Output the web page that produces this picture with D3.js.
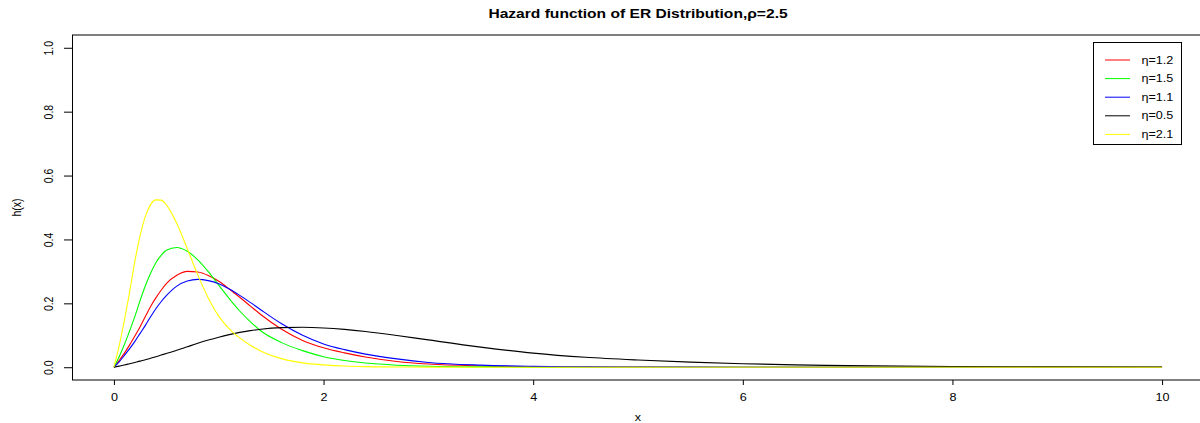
<!DOCTYPE html>
<html>
<head>
<meta charset="utf-8">
<script src="https://cdn.jsdelivr.net/npm/d3@7"></script>
<style>
  body { margin: 0; background: #fff; }
  text { font-family: "Liberation Sans", Arial, sans-serif; }
</style>
</head>
<body>
<div id="chart"></div>
<script>
// valores
const xs = [0, 0.05, 0.1, 0.15, 0.2, 0.25, 0.3, 0.35, 0.4, 0.45, 0.5, 0.6, 0.7, 0.8, 0.9, 1.0, 1.1, 1.2, 1.3, 1.4,
  1.6, 1.8, 2.0, 2.2, 2.4, 2.7, 3.0, 3.5, 4.0, 4.5, 5.0, 5.5, 6.0, 6.5, 7.0, 8.0, 9.0, 10.0];

const hEta12 = [0, 0.021, 0.044, 0.070, 0.098, 0.127, 0.159, 0.190, 0.217, 0.241, 0.262, 0.288, 0.300, 0.298, 0.287, 0.269, 0.245, 0.219, 0.192, 0.165,
  0.119, 0.084, 0.061, 0.045, 0.032, 0.018, 0.010, 0.004, 0.0016, 0.0007, 0.0002, 0, 0, 0, 0, 0, 0, 0];
const hEta15 = [0, 0.033, 0.071, 0.114, 0.159, 0.209, 0.255, 0.294, 0.327, 0.350, 0.366, 0.375, 0.363, 0.336, 0.299, 0.257, 0.215, 0.176, 0.143, 0.114,
  0.077, 0.052, 0.033, 0.021, 0.013, 0.0063, 0.003, 0.001, 0.0003, 0, 0, 0, 0, 0, 0, 0, 0, 0];
const hEta11 = [0, 0.017, 0.037, 0.058, 0.081, 0.106, 0.131, 0.158, 0.183, 0.205, 0.224, 0.254, 0.270, 0.275, 0.271, 0.261, 0.245, 0.225, 0.203, 0.180,
  0.136, 0.100, 0.073, 0.055, 0.041, 0.026, 0.015, 0.0065, 0.0028, 0.0011, 0.0006, 0.0002, 0, 0, 0, 0, 0, 0];
const hEta05 = [0, 0.0035, 0.007, 0.011, 0.015, 0.019, 0.0235, 0.028, 0.033, 0.038, 0.043, 0.053, 0.064, 0.075, 0.085, 0.094, 0.102, 0.109, 0.1145, 0.119,
  0.124, 0.125, 0.123, 0.1185, 0.112, 0.0995, 0.0855, 0.063, 0.044, 0.031, 0.0225, 0.016, 0.011, 0.0075, 0.005, 0.0022, 0.001, 0.0005];
const hEta21 = [0, 0.067, 0.147, 0.236, 0.332, 0.412, 0.472, 0.509, 0.524, 0.523, 0.508, 0.450, 0.371, 0.289, 0.217, 0.160, 0.120, 0.092, 0.069, 0.051,
  0.027, 0.0137, 0.0074, 0.0036, 0.0018, 0.0008, 0.0002, 0, 0, 0, 0, 0, 0, 0, 0, 0, 0, 0];

const etiquetas = ["η=1.2", "η=1.5", "η=1.1", "η=0.5", "η=2.1"];
const colores = ["#ff0000", "#00ff00", "#0000ff", "#000000", "#ffff00"];
const xTicks = [0, 2, 4, 6, 8, 10];
const yTicks = [0, 0.2, 0.4, 0.6, 0.8, 1.0];
const titulo = "Hazard function of ER Distribution,ρ=2.5";

const series = [hEta12, hEta15, hEta11, hEta05, hEta21];

const ancho = 1200, alto = 423;
const izq = 72, der = 1204, arriba = 35, abajo = 380;
// el original esta estirado a lo ancho
const estiro = "scale(1.2,1)";

const $svg = d3.select("#chart").append("svg")
  .attr("width", ancho)
  .attr("height", alto);

const x = d3.scaleLinear().domain([-0.4, 10.4]).range([izq, der]);
const y = d3.scaleLinear().domain([-0.04, 1.04]).range([abajo, arriba]);

// ejes
const ejeX = $svg.append("g")
  .attr("transform", `translate(0,${abajo})`)
  .call(d3.axisBottom(x).tickValues(xTicks).tickSize(5).tickFormat(d3.format("d")));
ejeX.select(".domain").remove();
ejeX.selectAll("text")
  .attr("y", null).attr("dy", null)
  .attr("transform", `translate(0,20.5) ${estiro}`)
  .attr("font-size", 10.5).attr("font-family", null);

const ejeY = $svg.append("g")
  .attr("transform", `translate(${izq},0)`)
  .call(d3.axisLeft(y).tickValues(yTicks).tickSize(8).tickFormat(d3.format(".1f")));
ejeY.select(".domain").remove();
ejeY.selectAll("text")
  .attr("x", null).attr("dy", null)
  .attr("text-anchor", "middle")
  .attr("transform", `translate(-19.5,0) ${estiro} rotate(-90)`)
  .attr("font-size", 10.5).attr("font-family", null);

// curvas
const linea = d3.line()
  .x((d, i) => x(xs[i]))
  .y(d => y(d))
  .curve(d3.curveMonotoneX);

series.forEach((s, i) => {
  $svg.append("path")
    .attr("d", linea(s))
    .attr("fill", "none")
    .attr("stroke", colores[i])
    .attr("stroke-width", 1.1);
});

// marco
$svg.append("rect")
  .attr("x", izq + 0.5).attr("y", arriba)
  .attr("width", der - izq).attr("height", abajo - arriba)
  .attr("fill", "none")
  .attr("stroke", "#000");

// titulos
$svg.append("text")
  .attr("transform", `translate(${(izq + der) / 2},18) ${estiro}`)
  .attr("text-anchor", "middle")
  .attr("font-weight", "bold")
  .attr("font-size", 13)
  .text(titulo);

$svg.append("text")
  .attr("transform", `translate(${(izq + der) / 2},420.5) ${estiro}`)
  .attr("text-anchor", "middle")
  .attr("font-size", 10.5)
  .text("x");

$svg.append("text")
  .attr("transform", `translate(20.5,${(arriba + abajo) / 2}) ${estiro} rotate(-90)`)
  .attr("text-anchor", "middle")
  .attr("font-size", 10.5)
  .text("h(x)");

// leyenda
const leyenda = $svg.append("g");
leyenda.append("rect")
  .attr("x", 1093.5).attr("y", 42.5)
  .attr("width", 88).attr("height", 102)
  .attr("fill", "#fff")
  .attr("stroke", "#000");

etiquetas.forEach((et, i) => {
  const yy = 60 + i * 18.6;
  leyenda.append("line")
    .attr("x1", 1105).attr("x2", 1130)
    .attr("y1", yy).attr("y2", yy)
    .attr("stroke", colores[i]);
  leyenda.append("text")
    .attr("transform", `translate(1141.5,${yy}) ${estiro}`)
    .attr("dy", "0.35em")
    .attr("font-size", 10.5)
    .text(et);
});
</script>
</body>
</html>
